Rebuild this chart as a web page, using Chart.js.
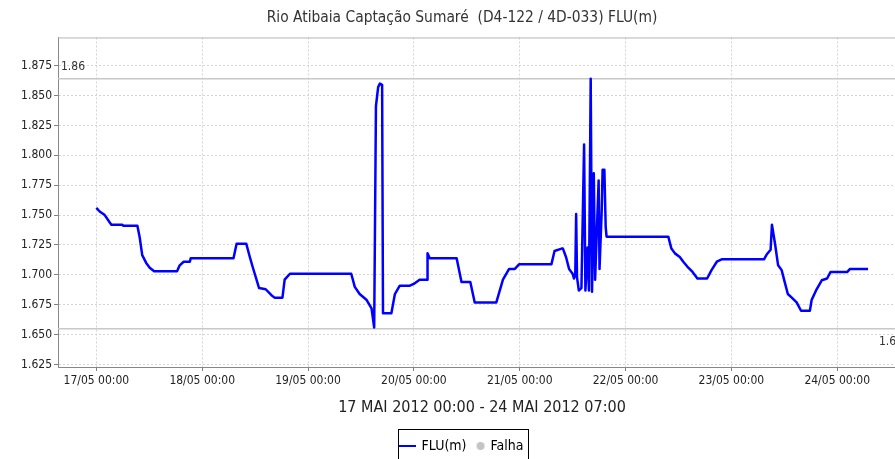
<!DOCTYPE html>
<html>
<head>
<meta charset="utf-8">
<script src="https://cdn.jsdelivr.net/npm/chart.js@4.4.1/dist/chart.umd.min.js"></script>
<style>
  html, body { margin: 0; padding: 0; background: #fff; overflow: hidden; }
  #wrap { width: 924px; height: 459px; }
</style>
</head>
<body>
<div id="wrap"><canvas id="grafico"></canvas></div>
<script>
const FONTE = "'DejaVu Sans Condensed', 'DejaVu Sans', sans-serif";

// horas contadas a partir de 17/05/2012 00:00
const horas = [
  0, 0.75, 1.9, 3.0, 3.4, 5.9, 6.1, 9.3, 9.8, 10.4, 11.3, 12.1, 13.1, 18.3, 18.9, 19.8, 21.2, 21.4,
  31.1, 31.8, 34.0, 34.8, 35.5, 36.9, 38.4, 39.7, 40.4, 42.2, 42.7, 43.9,
  57.8, 58.6, 59.7, 61.3, 62.4, 63.0, 63.4, 63.9, 64.3, 64.8, 65.0, 66.9, 67.7, 68.8, 71.1, 72.2, 73.3,
  75.0, 75.1, 75.6, 81.7, 82.8, 84.8, 85.8, 90.7, 92.2, 93.6, 94.9, 95.9,
  103.2, 103.9, 105.5, 105.8, 106.5, 107.2, 108.0, 108.3, 108.6, 108.8, 109.0, 109.4, 110.0, 110.6,
  110.9, 111.4, 111.7, 112.1, 112.4, 112.8, 113.1, 113.9, 114.1, 114.6, 114.8, 115.2, 115.5, 115.7,
  129.7, 130.4, 131.2, 132.3, 133.1, 134.0, 135.2, 136.3, 138.5, 139.5, 140.7, 141.8,
  151.4, 152.0, 152.9, 153.2, 153.9, 154.6, 155.4, 156.1, 156.8, 157.7, 158.8, 159.8, 161.8,
  162.2, 163.2, 164.5, 165.7, 166.5, 170.3, 170.9, 175.0
];
const nivel = [
  1.756, 1.753, 1.750, 1.744, 1.742, 1.742, 1.741, 1.741, 1.732, 1.7165, 1.710, 1.706, 1.703, 1.703, 1.708, 1.711, 1.711, 1.714,
  1.714, 1.726, 1.726, 1.715, 1.706, 1.689, 1.688, 1.683, 1.681, 1.681, 1.696, 1.701,
  1.701, 1.690, 1.684, 1.679, 1.672, 1.656, 1.841, 1.857, 1.860, 1.859, 1.668, 1.668, 1.684, 1.691, 1.691, 1.693, 1.696,
  1.696, 1.718, 1.714, 1.714, 1.694, 1.694, 1.677, 1.677, 1.696, 1.705, 1.705, 1.709,
  1.709, 1.720, 1.722, 1.722, 1.715, 1.705, 1.701, 1.697, 1.700, 1.751, 1.698, 1.687, 1.689, 1.809,
  1.687, 1.723, 1.687, 1.864, 1.686, 1.785, 1.696, 1.779, 1.705, 1.754, 1.788, 1.788, 1.740, 1.732,
  1.732, 1.722, 1.718, 1.715, 1.711, 1.707, 1.7025, 1.697, 1.697, 1.704, 1.711, 1.713,
  1.713, 1.717, 1.721, 1.742, 1.726, 1.708, 1.704, 1.694, 1.684, 1.681, 1.677, 1.670, 1.670,
  1.679, 1.687, 1.6955, 1.697, 1.7025, 1.7025, 1.705, 1.705
];

const diasX = [0, 24, 48, 72, 96, 120, 144, 168];
const rotulosX = ["17/05 00:00", "18/05 00:00", "19/05 00:00", "20/05 00:00",
  "21/05 00:00", "22/05 00:00", "23/05 00:00", "24/05 00:00"];
const ticksY = [1.625, 1.650, 1.675, 1.700, 1.725, 1.750, 1.775, 1.800, 1.825, 1.850, 1.875];

const limiteMax = 1.864, rotuloMax = "1.86";
const limiteMin = 1.655, rotuloMin = "1.66";

function icone(w, h, desenha) {
  const c = document.createElement("canvas");
  c.width = w;
  c.height = h;
  desenha(c.getContext("2d"));
  return c;
}
const iconeLinha = icone(17, 4, (g) => {
  g.fillStyle = "#0000ff";
  g.fillRect(0, 1, 17, 2);
});
// circulo deslocado para a direita, mais perto do texto
const iconeFalha = icone(18, 10, (g) => {
  g.fillStyle = "#c4c4c4";
  g.beginPath();
  g.arc(13, 5, 4, 0, Math.PI * 2);
  g.fill();
});

const referencias = {
  id: "referencias",
  beforeDatasetsDraw(chart) {
    const { ctx, chartArea, scales } = chart;
    const yMax = scales.y.getPixelForValue(limiteMax);
    const yMin = scales.y.getPixelForValue(limiteMin);
    ctx.save();
    ctx.strokeStyle = "#c8c8c8";
    ctx.lineWidth = 1.5;
    ctx.beginPath();
    ctx.moveTo(chartArea.left, yMax);
    ctx.lineTo(chartArea.right, yMax);
    ctx.moveTo(chartArea.left, yMin);
    ctx.lineTo(chartArea.right, yMin);
    ctx.stroke();
    ctx.fillStyle = "#333";
    ctx.font = "12px " + FONTE;
    ctx.textBaseline = "middle";
    ctx.textAlign = "left";
    ctx.fillText(rotuloMax, chartArea.left + 3, yMax - 12);
    ctx.textAlign = "right";
    ctx.fillText(rotuloMin, chartArea.right - 3, yMin + 13);
    ctx.restore();
  },
  afterDraw(chart) {
    const { ctx, chartArea } = chart;
    ctx.save();
    ctx.strokeStyle = "#b4b4b4";
    ctx.lineWidth = 1;
    ctx.beginPath();
    ctx.moveTo(chartArea.left, chartArea.top + 0.5);
    ctx.lineTo(chartArea.right, chartArea.top + 0.5);
    ctx.stroke();
    // moldura da legenda
    const caixas = chart.legend.legendHitBoxes;
    if (caixas && caixas.length) {
      const esq = Math.min(...caixas.map((b) => b.left)) - 3;
      const dir = Math.max(...caixas.map((b) => b.left + b.width)) + 4;
      const topo = caixas[0].top - 10;
      ctx.strokeStyle = "#000";
      ctx.strokeRect(Math.round(esq) + 0.5, Math.round(topo) + 0.5, Math.round(dir - esq), 60);
    }
    ctx.restore();
  },
};

new Chart(document.getElementById("grafico"), {
  type: "line",
  data: {
    datasets: [
      {
        label: "FLU(m)",
        data: horas.map((h, i) => ({ x: h, y: nivel[i] })),
        borderColor: "#0000ff",
        borderWidth: 2.5,
        pointRadius: 0,
        tension: 0,
        fill: false,
        borderJoinStyle: "round",
      },
    ],
  },
  options: {
    responsive: true,
    maintainAspectRatio: false,
    animation: false,
    layout: { padding: { left: 0, right: 0, top: 0, bottom: -4 } },
    plugins: {
      title: {
        display: true,
        text: "Rio Atibaia Captação Sumaré  (D4-122 / 4D-033) FLU(m)",
        color: "#333",
        font: { family: FONTE, size: 15.4, weight: "normal" },
        padding: { top: 9, bottom: 10 },
      },
      legend: {
        display: true,
        position: "bottom",
        labels: {
          usePointStyle: true,
          padding: 3,
          color: "#222",
          font: { family: FONTE, size: 14 },
          generateLabels: () => [
            { text: "FLU(m)", pointStyle: iconeLinha, fillStyle: "#0000ff", strokeStyle: "#0000ff", lineWidth: 0, hidden: false, datasetIndex: 0 },
            { text: "Falha", pointStyle: iconeFalha, fillStyle: "#c4c4c4", strokeStyle: "#c4c4c4", lineWidth: 0, hidden: false, datasetIndex: 1 },
          ],
        },
      },
      tooltip: { enabled: false },
    },
    scales: {
      x: {
        type: "linear",
        min: -8.7,
        max: 183.6,
        afterBuildTicks: (axis) => {
          axis.ticks = diasX.map((v) => ({ value: v }));
        },
        afterFit: (axis) => {
          axis.height = 69;
        },
        ticks: {
          autoSkip: false,
          maxRotation: 0,
          padding: 3,
          color: "#222",
          font: { family: FONTE, size: 12 },
          callback: (v, i) => rotulosX[i],
        },
        grid: {
          color: "#d4d4d4",
          tickLength: 4,
          tickColor: "#808080",
          tickBorderDash: [],
        },
        border: { display: true, color: "#888", width: 1, dash: [2, 2] },
        title: {
          display: true,
          text: "17 MAI 2012 00:00 - 24 MAI 2012 07:00",
          color: "#222",
          font: { family: FONTE, size: 16 },
          padding: { top: 0, bottom: 19 },
        },
      },
      y: {
        type: "linear",
        min: 1.623,
        max: 1.8985,
        afterBuildTicks: (axis) => {
          axis.ticks = ticksY.map((v) => ({ value: v }));
        },
        afterFit: (axis) => {
          axis.width = 58;
        },
        ticks: {
          padding: 2,
          color: "#222",
          font: { family: FONTE, size: 12 },
          callback: (v) => Number(v).toFixed(3),
        },
        grid: {
          color: "#d4d4d4",
          tickLength: 4,
          tickColor: "#808080",
          tickBorderDash: [],
        },
        border: { display: true, color: "#888", width: 1, dash: [2, 2] },
      },
      // eixo vazio a direita so para reservar a margem
      margem: {
        type: "linear",
        position: "right",
        display: true,
        afterFit: (axis) => {
          axis.width = 18;
        },
        ticks: { display: false },
        grid: { display: false, drawOnChartArea: false },
        border: { display: false },
      },
    },
  },
  plugins: [referencias],
});
</script>
</body>
</html>
